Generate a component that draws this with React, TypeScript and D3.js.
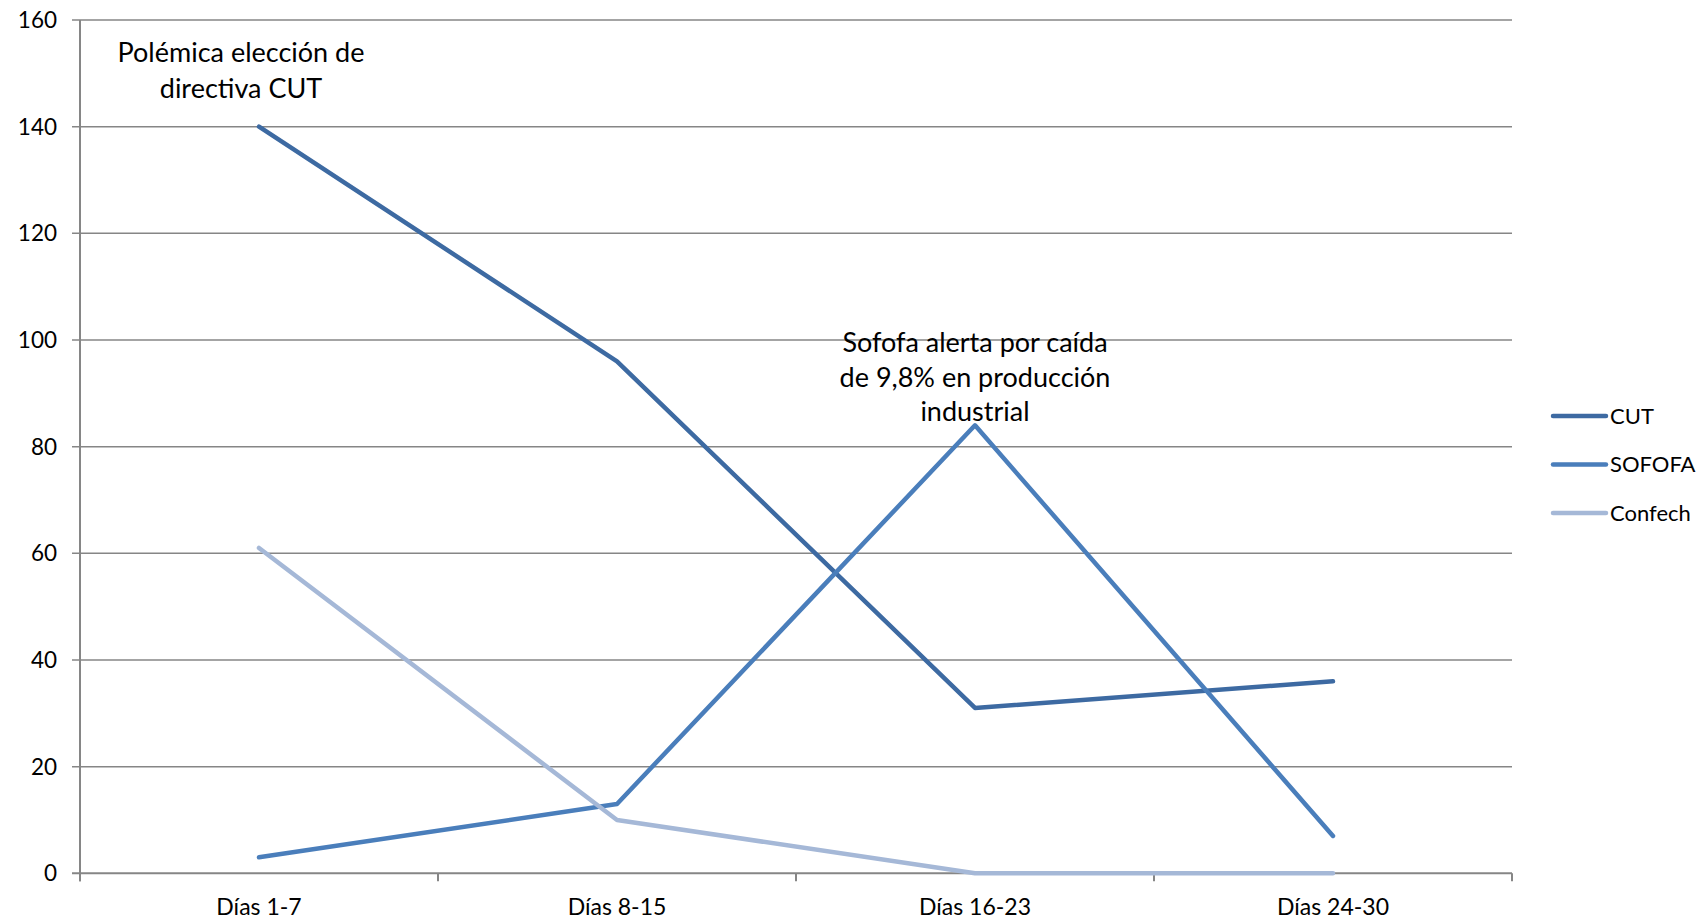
import React from "react";
import * as d3 from "d3";

const categories = ["Días 1-7", "Días 8-15", "Días 16-23", "Días 24-30"];
const cutValues = [140, 96, 31, 36];
const sofofaValues = [3, 13, 84, 7];
const confechValues = [61, 10, 0, 0];
const seriesNames = ["CUT", "SOFOFA", "Confech"];
const seriesColors = ["#3d6aa2", "#4a7ebb", "#a5b8d7"];
const yTicks = [0, 20, 40, 60, 80, 100, 120, 140, 160];

const W = 1708;
const H = 920;
const FONT = "Lato, 'Open Sans', sans-serif";

export default function App() {
  const left = 80, right = 1512, top = 20, bottom = 873.3;
  const x = d3.scaleBand<string>().domain(categories).range([left, right]);
  const y = d3.scaleLinear().domain([0, 160]).range([bottom, top]);
  const cx = (c: string) => (x(c) as number) + x.bandwidth() / 2;
  const line = d3.line<number>().x((_, i) => cx(categories[i])).y((v) => y(v));
  const series = [cutValues, sofofaValues, confechValues];
  const bounds = [left, ...categories.map((c) => (x(c) as number) + x.bandwidth())];

  return (
    <svg width={W} height={H} style={{ position: "absolute", left: 0, top: 0, background: "#fff" }}>
      {yTicks.map((t) => (
        <g key={t}>
          <line x1={left - 8} x2={right} y1={y(t)} y2={y(t)} stroke="#868686" strokeWidth={t === 0 ? 2 : 1.5} />
          <text x={left - 23} y={y(t)} dy="0.35em" textAnchor="end" fontFamily={FONT} fontSize={22.5} fill="#000">{t}</text>
        </g>
      ))}
      <line x1={left} x2={left} y1={top} y2={bottom + 8} stroke="#868686" strokeWidth={2} />
      {bounds.map((b, i) => (
        <line key={i} x1={b} x2={b} y1={bottom} y2={bottom + 8} stroke="#868686" strokeWidth={2} />
      ))}
      {categories.map((c) => (
        <text key={c} x={cx(c)} y={907} dy="0.35em" textAnchor="middle" fontFamily={FONT} fontSize={23} fill="#000">{c}</text>
      ))}
      {series.map((s, i) => (
        <path key={i} d={line(s) as string} fill="none" stroke={seriesColors[i]} strokeWidth={4.5} strokeLinecap="round" strokeLinejoin="round" />
      ))}
      <text textAnchor="middle" fontFamily={FONT} fontSize={27} fill="#000">
        <tspan x={241} y={53} dy="0.35em">Polémica elección de</tspan>
        <tspan x={241} y={89} dy="0.35em">directiva CUT</tspan>
      </text>
      <text textAnchor="middle" fontFamily={FONT} fontSize={27} fill="#000">
        <tspan x={975} y={343} dy="0.35em">Sofofa alerta por caída</tspan>
        <tspan x={975} y={378} dy="0.35em">de 9,8% en producción</tspan>
        <tspan x={975} y={412} dy="0.35em">industrial</tspan>
      </text>
      {seriesNames.map((n, i) => (
        <g key={n}>
          <line x1={1553} x2={1606} y1={416 + i * 48.5} y2={416 + i * 48.5} stroke={seriesColors[i]} strokeWidth={4.5} strokeLinecap="round" />
          <text x={1610} y={416 + i * 48.5} dy="0.35em" fontFamily={FONT} fontSize={22} fill="#000">{n}</text>
        </g>
      ))}
    </svg>
  );
}
